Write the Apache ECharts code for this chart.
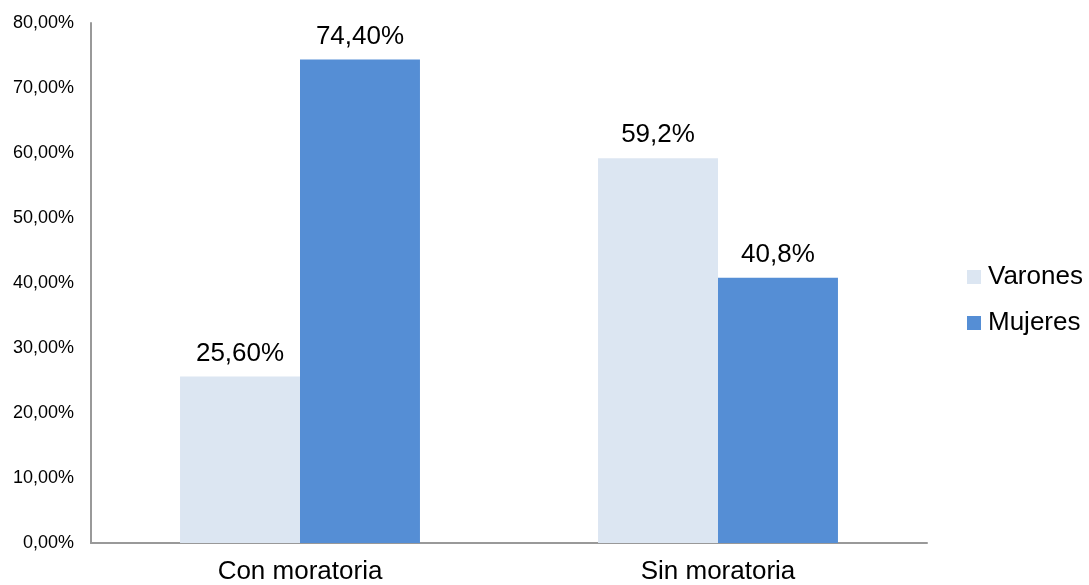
<!DOCTYPE html>
<html lang="es">
<head>
    <meta charset="UTF-8">
    <title>Moratoria</title>
    <style>
        * { margin: 0; padding: 0; }
        html, body { height: 100%; background: #fff; }
        #box { width: 1089px; height: 585px; }
    </style>
    <script src="https://cdn.jsdelivr.net/npm/echarts@6/dist/echarts.min.js"></script>
</head>
<body>
    <div id="box"></div>
    <script>
        var categorias = ['Con moratoria', 'Sin moratoria'];
        var varones = [25.6, 59.2];
        var mujeres = [74.4, 40.8];
        // etiquetas tal como aparecen en el original (formato mixto)
        var etiquetasVarones = ['25,60%', '59,2%'];
        var etiquetasMujeres = ['74,40%', '40,8%'];

        var myChart = echarts.init(document.getElementById('box'));
        var fuente = 'Liberation Sans, Arial, sans-serif';

        myChart.setOption({
            animation: false,
            textStyle: { fontFamily: fuente },
            grid: { left: 91, right: 162, top: 23, bottom: 41 },
            legend: {
                orient: 'vertical',
                left: 962,
                top: 259,
                icon: 'rect',
                itemWidth: 14,
                itemHeight: 14,
                itemGap: 20,
                textStyle: { fontSize: 26, lineHeight: 26, color: '#000', fontFamily: fuente, padding: [0, 0, 0, 2] },
                data: ['Varones', 'Mujeres']
            },
            xAxis: {
                type: 'category',
                data: categorias,
                axisLine: { lineStyle: { color: '#999', width: 2 } },
                axisTick: { show: false },
                axisLabel: { fontSize: 26, color: '#000', margin: 16, fontFamily: fuente }
            },
            yAxis: {
                type: 'value',
                min: 0,
                max: 80,
                interval: 10,
                splitLine: { show: false },
                axisLine: { show: true, lineStyle: { color: '#999', width: 2 } },
                axisTick: { show: false },
                axisLabel: {
                    fontSize: 18,
                    color: '#000',
                    margin: 17,
                    fontFamily: fuente,
                    formatter: function (v) { return v.toFixed(2).replace('.', ',') + '%'; }
                }
            },
            series: [
                {
                    name: 'Varones',
                    type: 'bar',
                    data: varones,
                    barGap: '0%',
                    barCategoryGap: '42.6%',
                    itemStyle: { color: '#DCE6F2' },
                    label: {
                        show: true,
                        position: 'top',
                        distance: 10,
                        fontSize: 26,
                        color: '#000',
                        fontFamily: fuente,
                        formatter: function (p) { return etiquetasVarones[p.dataIndex]; }
                    }
                },
                {
                    name: 'Mujeres',
                    type: 'bar',
                    data: mujeres,
                    itemStyle: { color: '#558ED5' },
                    label: {
                        show: true,
                        position: 'top',
                        distance: 10,
                        fontSize: 26,
                        color: '#000',
                        fontFamily: fuente,
                        formatter: function (p) { return etiquetasMujeres[p.dataIndex]; }
                    }
                }
            ]
        });

        window.onresize = function () {
            myChart.resize();
        };
    </script>
</body>
</html>
